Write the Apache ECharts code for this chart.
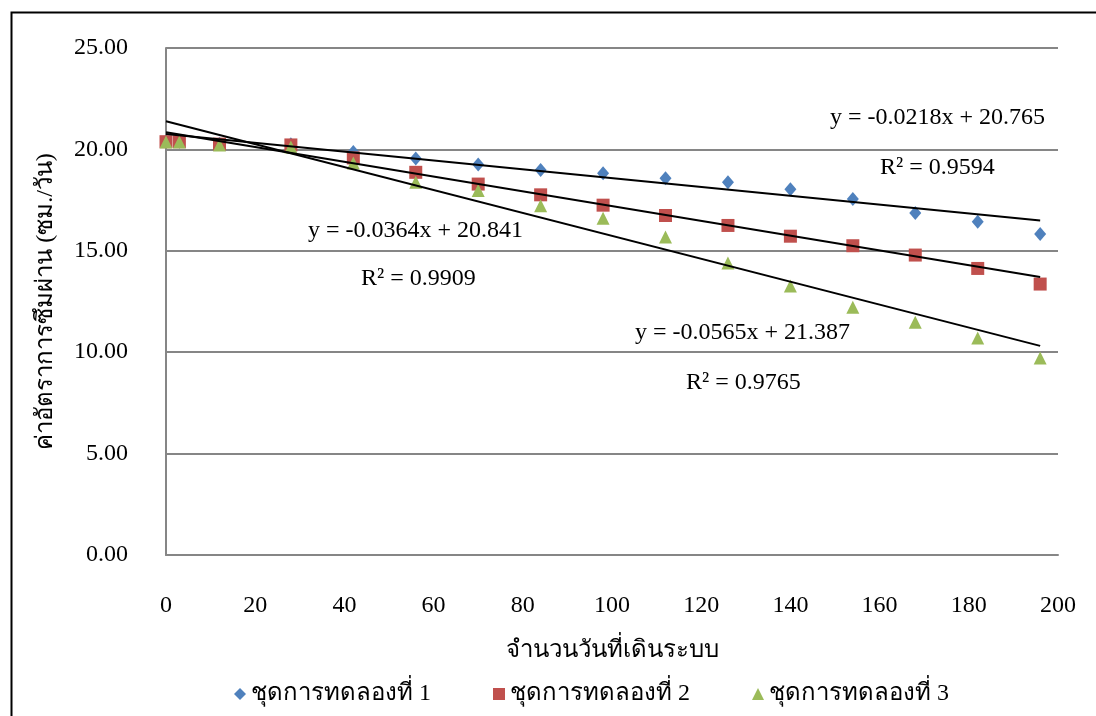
<!DOCTYPE html>
<html>
<head>
<meta charset="utf-8">
<script src="https://cdn.jsdelivr.net/npm/echarts@6/dist/echarts.min.js"></script>
<style>
  html, body { margin: 0; padding: 0; background: #fff; }
  #chart { width: 1096px; height: 716px; }
</style>
</head>
<body>
<div id="chart"></div>
<script>
// วันเดินระบบ
const days = [0, 3, 12, 28, 42, 56, 70, 84, 98, 112, 126, 140, 154, 168, 182, 196];
const set1 = [20.38, 20.38, 20.28, 20.25, 19.87, 19.55, 19.26, 18.98, 18.82, 18.58, 18.38, 18.04, 17.55, 16.86, 16.43, 15.83];
const set2 = [20.38, 20.38, 20.26, 20.22, 19.58, 18.87, 18.29, 17.76, 17.25, 16.74, 16.25, 15.72, 15.25, 14.79, 14.13, 13.36];
const set3 = [20.36, 20.36, 20.22, 20.12, 19.33, 18.38, 17.97, 17.22, 16.6, 15.68, 14.4, 13.27, 12.22, 11.48, 10.7, 9.72];
const seriesNames = ['ชุดการทดลองที่ 1', 'ชุดการทดลองที่ 2', 'ชุดการทดลองที่ 3'];
const colors = ['#4F81BD', '#C0504D', '#9BBB59'];
const symbols = ['diamond', 'rect', 'triangle'];
// trendline y = m x + b
const slopes = [-0.0218, -0.0364, -0.0565];
const intercepts = [20.765, 20.841, 21.387];
const eqTexts = ['y = -0.0218x + 20.765', 'y = -0.0364x + 20.841', 'y = -0.0565x + 21.387'];
const r2Texts = ['R² = 0.9594', 'R² = 0.9909', 'R² = 0.9765'];

const font = '"Liberation Serif", "Times New Roman", serif';
const fs = 24;
const chart = echarts.init(document.getElementById('chart'));

const allSets = [set1, set2, set3];
const scatter = allSets.map((vals, i) => ({
    name: seriesNames[i],
    type: 'scatter',
    symbol: symbols[i],
    symbolSize: i === 0 ? [12, 14] : 13,
    itemStyle: { color: colors[i], opacity: 1 },
    data: days.map((d, k) => [d, vals[k]]),
    z: 3
}));

const trends = slopes.map((m, i) => {
    const x0 = days[0], x1 = days[days.length - 1];
    return {
        name: 'trend' + i,
        type: 'line',
        symbol: 'none',
        silent: true,
        lineStyle: { color: '#000', width: 2 },
        data: [[x0, m * x0 + intercepts[i]], [x1, m * x1 + intercepts[i]]],
        z: 4
    };
});

const labelPos = [
    [[830, 106], [880, 156]],
    [[308, 219], [361, 267]],
    [[635, 321], [686, 371]]
];
const textEls = [];
labelPos.forEach((p, i) => {
    textEls.push({ type: 'text', left: p[0][0], top: p[0][1], z: 10,
        style: { text: eqTexts[i], font: fs + 'px ' + font, fill: '#000' } });
    textEls.push({ type: 'text', left: p[1][0], top: p[1][1], z: 10,
        style: { text: r2Texts[i], font: fs + 'px ' + font, fill: '#000' } });
});

const option = {
    animation: false,
    backgroundColor: '#fff',
    textStyle: { fontFamily: font },
    grid: { left: 166, right: 38, top: 48, bottom: 161 },
    legend: {
        data: seriesNames,
        bottom: 5,
        left: 229,
        itemGap: 62,
        itemWidth: 12,
        itemHeight: 12,
        textStyle: { fontFamily: font, fontSize: fs, color: '#000' }
    },
    xAxis: {
        type: 'value',
        min: 0, max: 200, interval: 20,
        name: 'จำนวนวันที่เดินระบบ',
        nameLocation: 'middle',
        nameGap: 84,
        nameTextStyle: { fontFamily: font, fontSize: fs, color: '#000' },
        axisLine: { show: true, lineStyle: { color: '#868686', width: 2 } },
        axisTick: { show: false },
        axisLabel: { margin: 39, fontFamily: font, fontSize: fs, color: '#000' },
        splitLine: { show: false }
    },
    yAxis: {
        type: 'value',
        min: 0, max: 25, interval: 5,
        name: 'ค่าอัตราการซึมผ่าน (ซม./วัน)',
        nameLocation: 'middle',
        nameGap: 108,
        nameTextStyle: { fontFamily: font, fontSize: fs, color: '#000' },
        axisLine: { show: true, lineStyle: { color: '#868686', width: 2 } },
        axisTick: { show: false },
        axisLabel: { margin: 38, fontFamily: font, fontSize: fs, color: '#000',
            formatter: v => v.toFixed(2) },
        splitLine: { show: true, lineStyle: { color: '#868686', width: 2 } }
    },
    graphic: [
        { type: 'rect', left: 9, top: 10, z: -1, silent: true,
          shape: { width: 1100, height: 720 },
          style: { fill: 'none', stroke: '#000', lineWidth: 2 } }
    ].concat(textEls),
    series: scatter.concat(trends)
};
chart.setOption(option);
</script>
</body>
</html>
